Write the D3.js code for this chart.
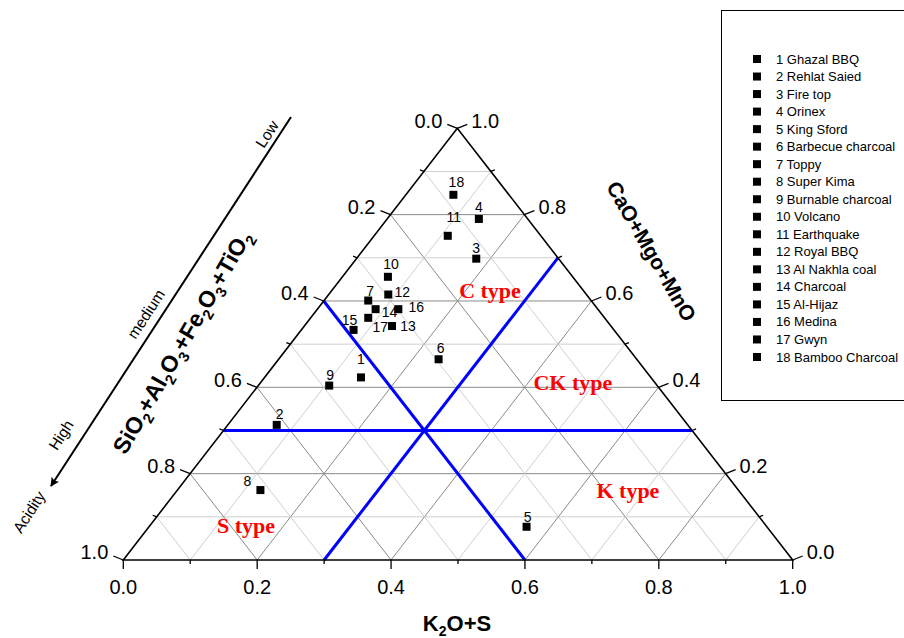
<!DOCTYPE html>
<html lang="en">
<head>
  <meta charset="utf-8">
  <script src="https://d3js.org/d3.v7.min.js"></script>
  <title>Ternary diagram</title>
  <style>
    body { margin: 0; background: #fff; }
    svg { font-family: "Liberation Sans", Arial, sans-serif; }
    .grid-minor { stroke: #cfcfcf; stroke-width: 1px; }
    .grid-major { stroke: #8a8a8a; stroke-width: 1px; }
    .edge { stroke: #000; stroke-width: 1.6px; fill: none; }
    .tick { stroke: #000; stroke-width: 1.3px; }
    .boundary { stroke: #0000ff; stroke-width: 3px; }
    .region { fill: #ff0000; font-family: "Liberation Serif", "Times New Roman", serif; font-weight: bold; font-size: 22px; }
  </style>
</head>
<body>
<svg id="chart" width="904" height="638"></svg>
<script>
// samples (components as fractions)
const ids = [1, 2, 3, 4, 5, 6, 7, 8, 9, 10, 11, 12, 13, 14, 15, 16, 17, 18];
const names = ["Ghazal BBQ", "Rehlat Saied", "Fire top", "Orinex", "King Sford", "Barbecue charcoal",
  "Toppy", "Super Kima", "Burnable charcoal", "Volcano", "Earthquake", "Royal BBQ",
  "Al Nakhla coal", "Charcoal", "Al-Hijaz", "Medina", "Gwyn", "Bamboo Charcoal"];
const k2o = [0.144, 0.073, 0.179, 0.137, 0.564, 0.239, 0.066, 0.124, 0.106, 0.068, 0.110, 0.089, 0.131, 0.087, 0.078, 0.121, 0.086, 0.071];
const sio2 = [0.433, 0.614, 0.123, 0.073, 0.359, 0.296, 0.333, 0.714, 0.490, 0.276, 0.139, 0.296, 0.327, 0.332, 0.389, 0.298, 0.353, 0.083];
const cao = [0.423, 0.313, 0.698, 0.790, 0.077, 0.465, 0.601, 0.162, 0.404, 0.656, 0.751, 0.615, 0.542, 0.581, 0.533, 0.581, 0.561, 0.846];

// classification boundaries
const boundK = [0.3];
const boundSi = [0.4];
const boundCa = [0.3];

const tickValues = [0, 0.2, 0.4, 0.6, 0.8, 1.0];
const tickLabels = ["0.0", "0.2", "0.4", "0.6", "0.8", "1.0"];
const gridValues = [0.1, 0.2, 0.3, 0.4, 0.5, 0.6, 0.7, 0.8, 0.9];
const minorTicks = [0.1, 0.3, 0.5, 0.7, 0.9];

const regionNames = ["C type", "CK type", "K type", "S type"];
// label anchor in composition (k, si, ca)
const regionK = [0.236, 0.466, 0.674, 0.143];
const regionSi = [0.139, 0.122, 0.166, 0.776];
const regionCa = [0.625, 0.412, 0.160, 0.081];

// label offsets for the point numbers (pixels)
const labelDx = [0, 3, 0, 0, 1, 2, 2, -13, 1, 3, 6, 14, 16, 14, -4, 18, 12, 3];
const labelDy = [-18, -11, -11, -12, -10, -11, -10, -9, -11, -13, -19, -3, 0, 3, -10, -2, 9, -13];

const svg = d3.select("#chart");
const BL = [123.3, 560], BR = [792.7, 560], TOP = [457.3, 128.3];

let xK = d3.scaleLinear().domain([0, 1]).range([BL[0], BR[0]]);
let yC = d3.scaleLinear().domain([0, 1]).range([BL[1], TOP[1]]);
let shiftC = d3.scaleLinear().domain([0, 1]).range([0, TOP[0] - BL[0]]);

function project(k, si, ca) {
  let s = k + si + ca;
  k = k / s; ca = ca / s;
  return [xK(k) + shiftC(ca), yC(ca)];
}

function line(g, p1, p2, cls) {
  g.append("line")
    .attr("x1", p1[0]).attr("y1", p1[1])
    .attr("x2", p2[0]).attr("y2", p2[1])
    .attr("class", cls);
}

// grid
let grid = svg.append("g");
gridValues.forEach(function (v) {
  let cls = (Math.round(v * 10) % 2 == 0) ? "grid-major" : "grid-minor";
  line(grid, project(v, 1 - v, 0), project(v, 0, 1 - v), cls);
  line(grid, project(1 - v, v, 0), project(0, v, 1 - v), cls);
  line(grid, project(0, 1 - v, v), project(1 - v, 0, v), cls);
});

// blue boundaries
let bounds = svg.append("g");
boundK.forEach(v => line(bounds, project(v, 1 - v, 0), project(v, 0, 1 - v), "boundary"));
boundSi.forEach(v => line(bounds, project(1 - v, v, 0), project(0, v, 1 - v), "boundary"));
boundCa.forEach(v => line(bounds, project(0, 1 - v, v), project(1 - v, 0, v), "boundary"));

// triangle
svg.append("path")
  .attr("class", "edge")
  .attr("d", "M" + project(0, 1, 0) + "L" + project(1, 0, 0) + "L" + project(0, 0, 1) + "Z");

// ticks
let ticks = svg.append("g");
tickValues.forEach(function (v, i) {
  // bottom: K2O+S
  let p = project(v, 1 - v, 0);
  line(ticks, p, [p[0], p[1] + 9], "tick");
  ticks.append("text").attr("x", p[0]).attr("y", p[1] + 29)
    .attr("text-anchor", "middle").attr("dominant-baseline", "middle")
    .style("font-size", "20px").text(tickLabels[i]);
  // left: SiO2...
  p = project(0, v, 1 - v);
  line(ticks, p, [p[0] - 10, p[1] - 4], "tick");
  ticks.append("text").attr("x", p[0] - 15).attr("y", p[1] - 6)
    .attr("text-anchor", "end").attr("dominant-baseline", "middle")
    .style("font-size", "20px").text(tickLabels[i]);
  // right: CaO...
  p = project(1 - v, 0, v);
  line(ticks, p, [p[0] + 10, p[1] - 4], "tick");
  ticks.append("text").attr("x", p[0] + 14).attr("y", p[1] - 6)
    .attr("text-anchor", "start").attr("dominant-baseline", "middle")
    .style("font-size", "20px").text(tickLabels[i]);
});
minorTicks.forEach(function (v) {
  let p = project(v, 1 - v, 0);
  line(ticks, p, [p[0], p[1] + 4], "tick");
  p = project(0, v, 1 - v);
  line(ticks, p, [p[0] - 4, p[1] - 1.6], "tick");
  p = project(1 - v, 0, v);
  line(ticks, p, [p[0] + 4, p[1] - 1.6], "tick");
});

// axis titles
let kt = svg.append("text").attr("x", 457).attr("y", 631)
  .attr("text-anchor", "middle").style("font-weight", "bold").style("font-size", "22px");
kt.append("tspan").text("K");
kt.append("tspan").attr("dy", 5).style("font-size", "14px").text("2");
kt.append("tspan").attr("dy", -5).text("O+S");

let lt = svg.append("text").attr("transform", "translate(189,346) rotate(-60)")
  .attr("text-anchor", "middle").style("font-weight", "bold").style("font-size", "23px");
[["SiO", 0], ["2", 1], ["+Al", -1], ["2", 1], ["O", -1], ["3", 1], ["+Fe", -1], ["2", 1], ["O", -1], ["3", 1], ["+TiO", -1], ["2", 1]]
  .forEach(function (d) {
    let t = lt.append("tspan").text(d[0]);
    if (d[1] == 1) t.attr("dy", 6).style("font-size", "15px");
    if (d[1] == -1) t.attr("dy", -6);
  });

svg.append("text").attr("transform", "translate(645,255) rotate(60)")
  .attr("text-anchor", "middle").style("font-weight", "bold").style("font-size", "21px")
  .text("CaO+Mgo+MnO");

// acidity arrow
svg.append("defs").append("marker")
  .attr("id", "arrow").attr("viewBox", "0 0 10 10")
  .attr("refX", 9).attr("refY", 5)
  .attr("markerWidth", 9).attr("markerHeight", 9)
  .attr("markerUnits", "userSpaceOnUse")
  .attr("orient", "auto")
  .append("path").attr("d", "M0,0L10,5L0,10L2,5Z").style("fill", "#000");
svg.append("line")
  .attr("x1", 291).attr("y1", 117).attr("x2", 51).attr("y2", 486)
  .style("stroke", "#000").style("stroke-width", 2)
  .attr("marker-end", "url(#arrow)");
[["Low", 267, 134], ["medium", 146, 314], ["High", 61, 435], ["Acidity", 29, 512]].forEach(function (d) {
  svg.append("text")
    .attr("transform", "translate(" + d[1] + "," + d[2] + ") rotate(-57)")
    .attr("text-anchor", "middle").attr("dominant-baseline", "central")
    .style("font-size", "15.5px").text(d[0]);
});

// region labels
regionNames.forEach(function (n, i) {
  let p = project(regionK[i], regionSi[i], regionCa[i]);
  svg.append("text").attr("class", "region")
    .attr("x", p[0]).attr("y", p[1])
    .attr("text-anchor", "middle").attr("dominant-baseline", "central")
    .text(n);
});

// points
let pts = svg.append("g");
ids.forEach(function (id, i) {
  let p = project(k2o[i], sio2[i], cao[i]);
  pts.append("rect")
    .attr("x", p[0] - 4).attr("y", p[1] - 4)
    .attr("width", 8).attr("height", 8)
    .style("fill", "#000");
  pts.append("text")
    .attr("x", p[0] + labelDx[i]).attr("y", p[1] + labelDy[i])
    .attr("text-anchor", "middle").attr("dominant-baseline", "central")
    .style("font-size", "14px").text(id);
});

// legend
let legend = svg.append("g");
legend.append("rect")
  .attr("x", 721.5).attr("y", 10.5).attr("width", 190).attr("height", 390)
  .style("fill", "none").style("stroke", "#000").style("stroke-width", 1);
let ly = d3.scaleLinear().domain([0, ids.length - 1]).range([59, 357]);
ids.forEach(function (id, i) {
  legend.append("rect")
    .attr("x", 753).attr("y", ly(i) - 4).attr("width", 8).attr("height", 8)
    .style("fill", "#000");
  legend.append("text")
    .attr("x", 776).attr("y", ly(i))
    .attr("dominant-baseline", "central")
    .style("font-size", "13px")
    .text(id + " " + names[i]);
});
</script>
</body>
</html>
